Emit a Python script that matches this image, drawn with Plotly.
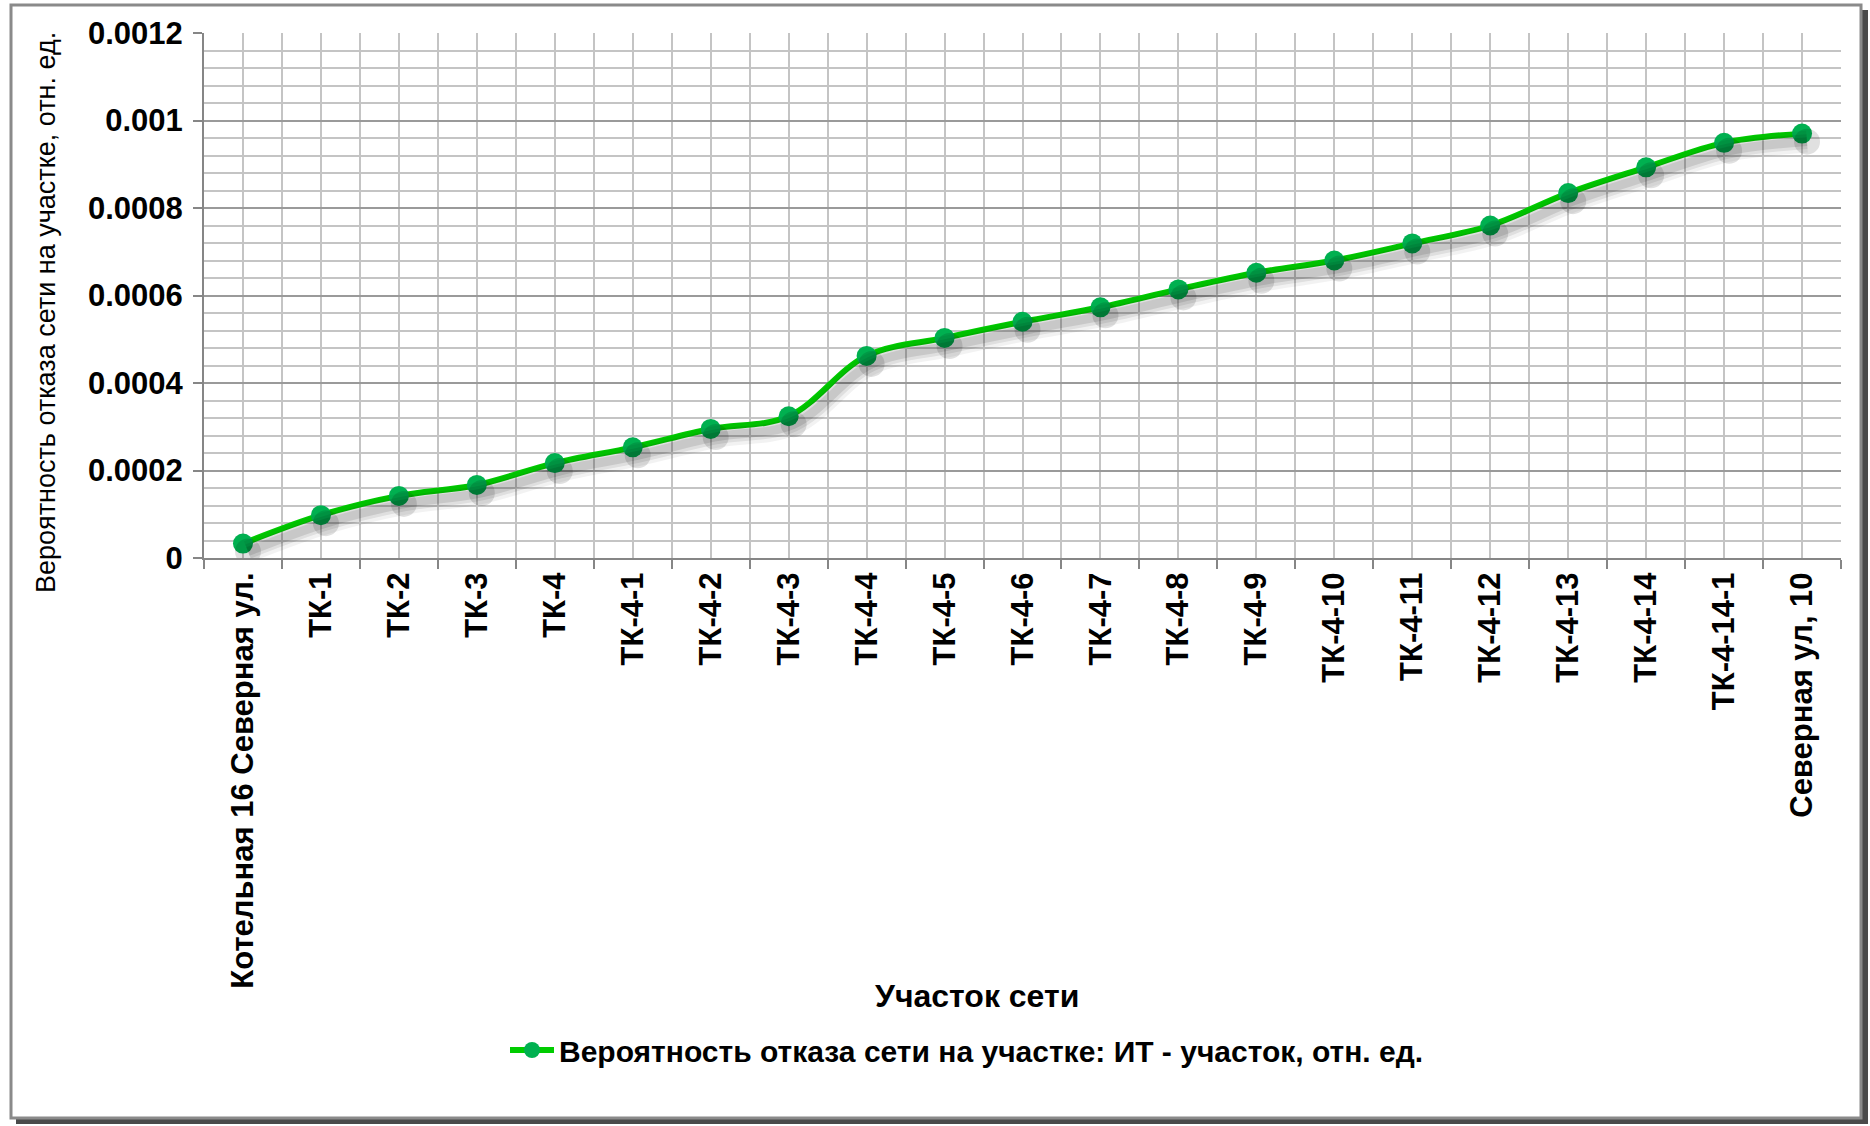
import plotly.graph_objects as go

# ---------------- data ----------------
categories = [
    "Котельная 16 Северная ул.", "ТК-1", "ТК-2", "ТК-3", "ТК-4",
    "ТК-4-1", "ТК-4-2", "ТК-4-3", "ТК-4-4", "ТК-4-5", "ТК-4-6",
    "ТК-4-7", "ТК-4-8", "ТК-4-9", "ТК-4-10", "ТК-4-11", "ТК-4-12",
    "ТК-4-13", "ТК-4-14", "ТК-4-14-1", "Северная ул, 10",
]
values = [
    0.000033, 0.000098, 0.000142, 0.000167, 0.000217,
    0.000253, 0.000295, 0.000324, 0.000462, 0.000503, 0.000540,
    0.000573, 0.000614, 0.000652, 0.000680, 0.000719, 0.000760,
    0.000834, 0.000893, 0.000949, 0.000970,
]
y_tick_values = [0, 0.0002, 0.0004, 0.0006, 0.0008, 0.001, 0.0012]
y_tick_labels = ["0", "0.0002", "0.0004", "0.0006", "0.0008", "0.001", "0.0012"]
series_name = "Вероятность отказа сети на участке: ИТ - участок, отн. ед."
x_title = "Участок сети"
y_title = "Вероятность отказа сети на участке, отн. ед."

# ---------------- layout geometry (pixels) ----------------
W, H = 1870, 1126
L, R, T, B = 204, 29, 33, 568
PW, PH = W - L - R, H - T - B
FONT = "Liberation Sans, Arial, sans-serif"


def px(x):
    return (x - L) / PW


def py(y):
    return (H - B - y) / PH


x_idx = list(range(len(categories)))
x_range = [-0.5, len(categories) - 0.5]
y_range = [0, 0.0012]

# shadow offsets (in pixels) -> shifted overlay axes
sdx, sdy = 5, 8
dx_units = sdx * (x_range[1] - x_range[0]) / PW
dy_units = sdy * (y_range[1] - y_range[0]) / PH

fig = go.Figure()

# soft shadow of the series (drawn on shifted overlay axes)
for w, a in [(22, 0.05), (15, 0.08), (9, 0.10)]:
    fig.add_trace(go.Scatter(
        x=x_idx, y=values, mode="lines", xaxis="x2", yaxis="y2",
        line=dict(color=f"rgba(0,0,0,{a})", width=w, shape="spline"),
        hoverinfo="skip", showlegend=False,
    ))
fig.add_trace(go.Scatter(
    x=x_idx, y=values, mode="markers", xaxis="x2", yaxis="y2",
    marker=dict(color="rgba(0,0,0,0.12)", size=26),
    hoverinfo="skip", showlegend=False,
))

# main series
fig.add_trace(go.Scatter(
    x=x_idx, y=values, mode="lines+markers", name=series_name,
    line=dict(color="#00CC00", width=6, shape="spline"),
    marker=dict(color="#00B050", size=20, line=dict(width=0)),
))

grid_minor = "#C4C4C4"
grid_major = "#9A9A9A"

fig.update_layout(
    width=W, height=H,
    margin=dict(l=L, r=R, t=T, b=B),
    paper_bgcolor="white",
    plot_bgcolor="rgba(0,0,0,0)",
    font=dict(family=FONT, color="black"),
    showlegend=True,
    legend=dict(
        x=px(967), y=py(1050), xanchor="center", yanchor="middle",
        orientation="h", itemwidth=44,
        font=dict(family=FONT, size=30, color="black", weight="bold"),
        bgcolor="rgba(0,0,0,0)",
    ),
    xaxis=dict(
        range=x_range, tickmode="array", tickvals=x_idx, ticktext=categories,
        tickangle=-90, ticks="", showgrid=True, gridcolor=grid_minor, gridwidth=2,
        zeroline=False, showline=True, linecolor="#868686", linewidth=2,
        tickfont=dict(family=FONT, size=31, color="black", weight="bold"),
        ticklabelstandoff=0,
        minor=dict(tickmode="linear", tick0=-0.5, dtick=1, ticks="outside",
                   ticklen=9, tickcolor="#868686", tickwidth=2,
                   showgrid=True, gridcolor=grid_minor, gridwidth=2),
        fixedrange=True,
    ),
    yaxis=dict(
        range=y_range, tickmode="array", tickvals=y_tick_values, ticktext=y_tick_labels,
        ticks="outside", ticklen=9, tickcolor="#868686", tickwidth=2,
        showgrid=True, gridcolor=grid_major, gridwidth=2,
        zeroline=False, showline=True, linecolor="#868686", linewidth=2,
        tickfont=dict(family=FONT, size=31, color="black", weight="bold"),
        ticklabelstandoff=4,
        minor=dict(tickmode="linear", tick0=0, dtick=0.00004, ticks="",
                   showgrid=True, gridcolor=grid_minor, gridwidth=2),
        fixedrange=True,
    ),
    xaxis2=dict(range=[x_range[0] - dx_units, x_range[1] - dx_units],
                overlaying="x", visible=False, fixedrange=True),
    yaxis2=dict(range=[y_range[0] + dy_units, y_range[1] + dy_units],
                overlaying="y", visible=False, fixedrange=True),
    annotations=[
        dict(text=y_title, xref="paper", yref="paper", x=px(46), y=py(313),
             xanchor="center", yanchor="middle", textangle=-90, showarrow=False,
             font=dict(family=FONT, size=27, color="black")),
        dict(text=x_title, xref="paper", yref="paper", x=px(977), y=py(996),
             xanchor="center", yanchor="middle", showarrow=False,
             font=dict(family=FONT, size=32, color="black", weight="bold")),
    ],
    shapes=[
        # outer frame shadow
        dict(type="rect", xref="paper", yref="paper", layer="below",
             x0=px(16), x1=px(1868), y0=py(10), y1=py(1124),
             fillcolor="#4a4a4a", line=dict(width=0)),
        # outer frame
        dict(type="rect", xref="paper", yref="paper", layer="below",
             x0=px(11), x1=px(1861), y0=py(5), y1=py(1118),
             fillcolor="white", line=dict(color="#8a8a8a", width=3)),
    ],
)

fig.write_html(
    "out.html",
    config={"displayModeBar": False},
    post_script="document.body.style.margin='0';document.body.style.overflow='hidden';",
)
